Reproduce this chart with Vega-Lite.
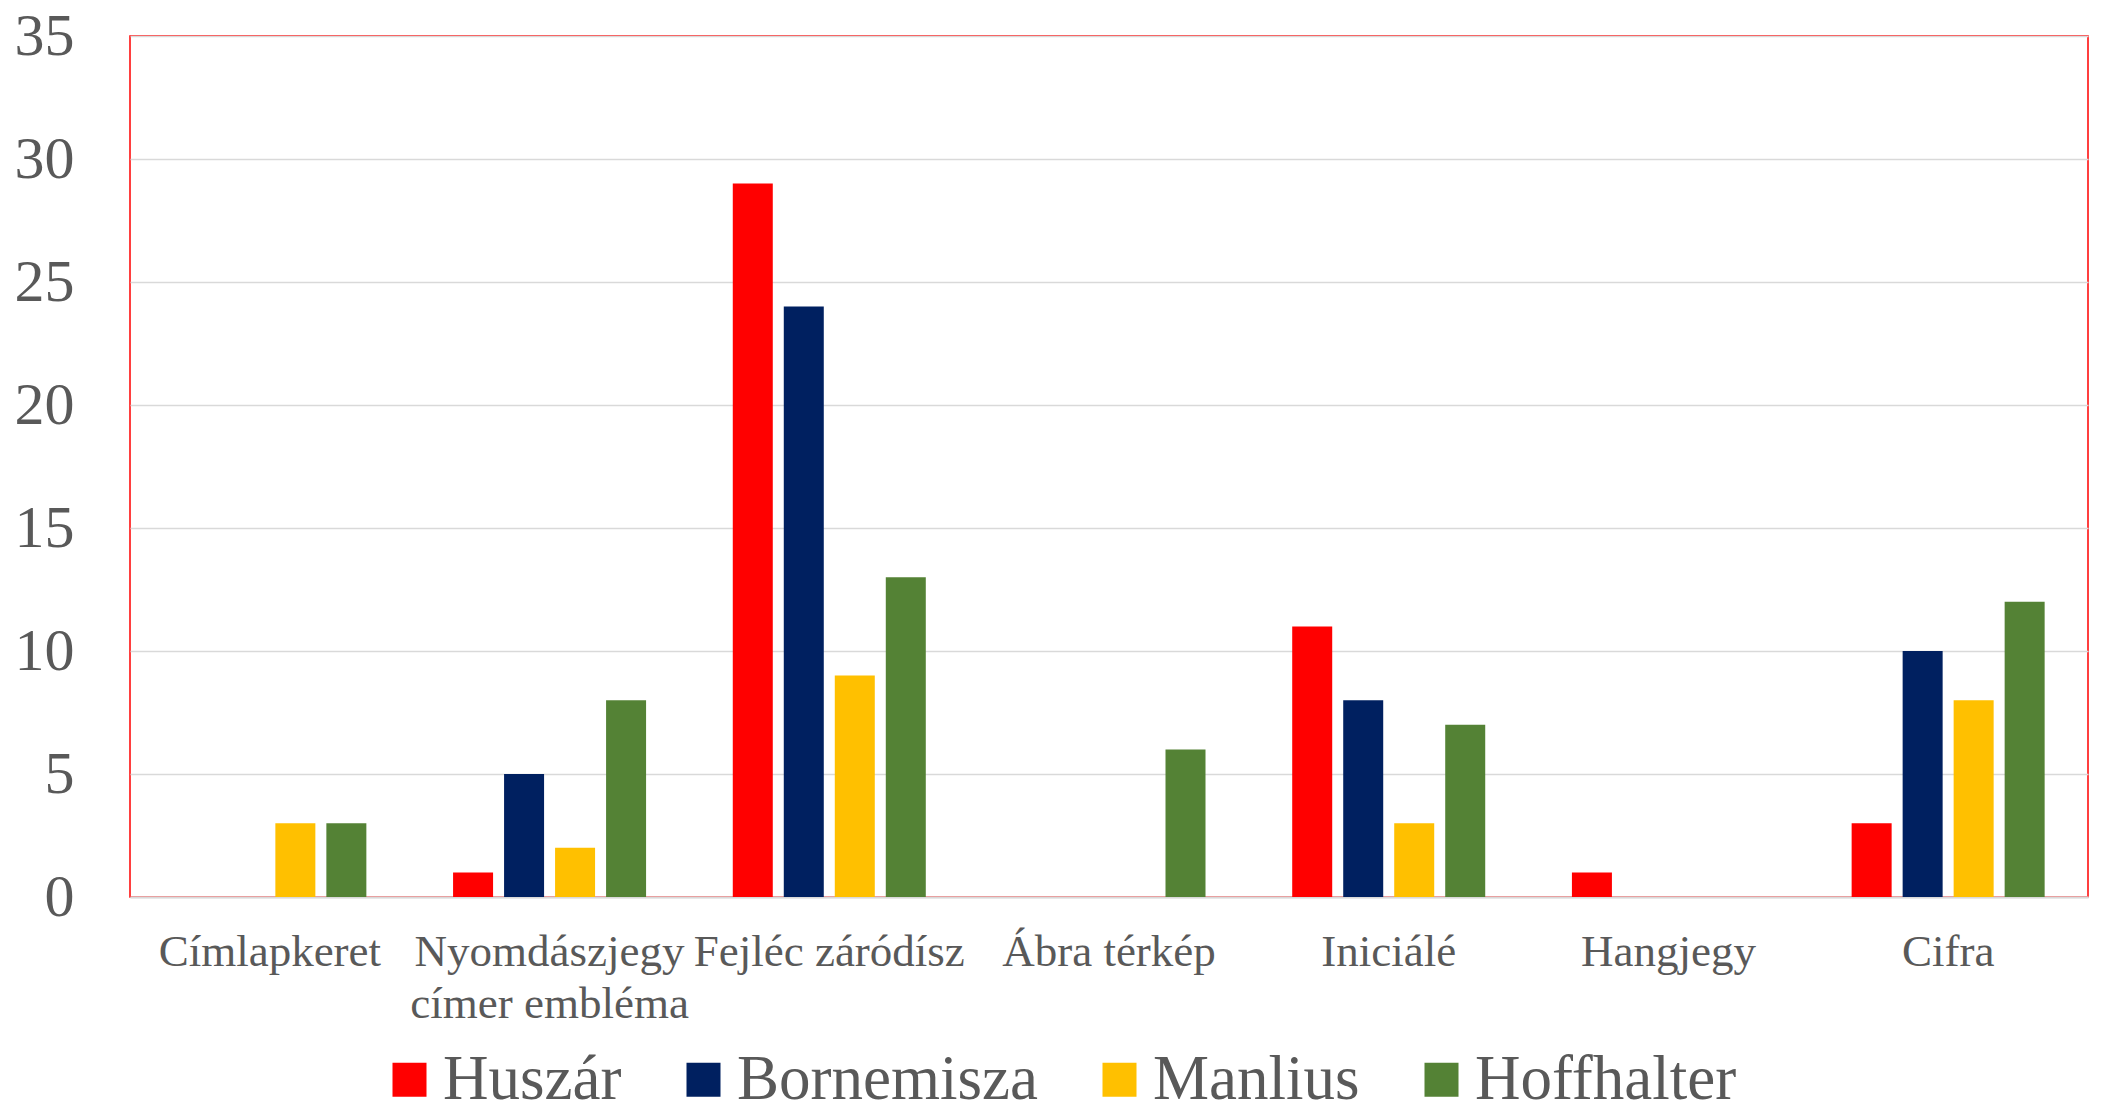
{
  "$schema": "https://vega.github.io/schema/vega-lite/v6.json",
  "autosize": {"type": "none"},
  "width": 1958,
  "height": 861,
  "padding": {"left": 130, "top": 36, "right": 21, "bottom": 218},
  "background": "white",
  "config": {
    "font": "Liberation Serif",
    "view": {"stroke": "#FF0000", "strokeWidth": 1.5}
  },
  "data": {
    "values": [
      {"kategoria": "Címlapkeret", "nyomda": "Huszár", "db": 0},
      {"kategoria": "Címlapkeret", "nyomda": "Bornemisza", "db": 0},
      {"kategoria": "Címlapkeret", "nyomda": "Manlius", "db": 3},
      {"kategoria": "Címlapkeret", "nyomda": "Hoffhalter", "db": 3},
      {"kategoria": "Nyomdászjegy címer embléma", "nyomda": "Huszár", "db": 1},
      {"kategoria": "Nyomdászjegy címer embléma", "nyomda": "Bornemisza", "db": 5},
      {"kategoria": "Nyomdászjegy címer embléma", "nyomda": "Manlius", "db": 2},
      {"kategoria": "Nyomdászjegy címer embléma", "nyomda": "Hoffhalter", "db": 8},
      {"kategoria": "Fejléc záródísz", "nyomda": "Huszár", "db": 29},
      {"kategoria": "Fejléc záródísz", "nyomda": "Bornemisza", "db": 24},
      {"kategoria": "Fejléc záródísz", "nyomda": "Manlius", "db": 9},
      {"kategoria": "Fejléc záródísz", "nyomda": "Hoffhalter", "db": 13},
      {"kategoria": "Ábra térkép", "nyomda": "Huszár", "db": 0},
      {"kategoria": "Ábra térkép", "nyomda": "Bornemisza", "db": 0},
      {"kategoria": "Ábra térkép", "nyomda": "Manlius", "db": 0},
      {"kategoria": "Ábra térkép", "nyomda": "Hoffhalter", "db": 6},
      {"kategoria": "Iniciálé", "nyomda": "Huszár", "db": 11},
      {"kategoria": "Iniciálé", "nyomda": "Bornemisza", "db": 8},
      {"kategoria": "Iniciálé", "nyomda": "Manlius", "db": 3},
      {"kategoria": "Iniciálé", "nyomda": "Hoffhalter", "db": 7},
      {"kategoria": "Hangjegy", "nyomda": "Huszár", "db": 1},
      {"kategoria": "Hangjegy", "nyomda": "Bornemisza", "db": 0},
      {"kategoria": "Hangjegy", "nyomda": "Manlius", "db": 0},
      {"kategoria": "Hangjegy", "nyomda": "Hoffhalter", "db": 0},
      {"kategoria": "Cifra", "nyomda": "Huszár", "db": 3},
      {"kategoria": "Cifra", "nyomda": "Bornemisza", "db": 10},
      {"kategoria": "Cifra", "nyomda": "Manlius", "db": 8},
      {"kategoria": "Cifra", "nyomda": "Hoffhalter", "db": 12}
    ]
  },
  "mark": {"type": "bar"},
  "encoding": {
    "x": {
      "field": "kategoria",
      "type": "nominal",
      "sort": ["Címlapkeret", "Nyomdászjegy címer embléma", "Fejléc záródísz", "Ábra térkép", "Iniciálé", "Hangjegy", "Cifra"],
      "scale": {"paddingInner": 0, "paddingOuter": 0},
      "axis": {
        "title": null,
        "labelAngle": 0,
        "labelFont": "Liberation Serif",
        "labelFontSize": 45,
        "labelColor": "#595959",
        "labelPadding": 32,
        "labelLineHeight": 52,
        "labelLimit": 0,
        "labelExpr": "datum.label == 'Nyomdászjegy címer embléma' ? ['Nyomdászjegy', 'címer embléma'] : datum.label",
        "ticks": false,
        "domain": true,
        "domainColor": "#D9D9D9",
        "domainWidth": 2,
        "grid": false
      }
    },
    "xOffset": {
      "field": "nyomda",
      "type": "nominal",
      "sort": ["Huszár", "Bornemisza", "Manlius", "Hoffhalter"],
      "scale": {"paddingInner": 0.2157, "paddingOuter": 0.85}
    },
    "y": {
      "field": "db",
      "type": "quantitative",
      "scale": {"domain": [0, 35], "nice": false},
      "axis": {
        "title": null,
        "values": [0, 5, 10, 15, 20, 25, 30, 35],
        "labelFont": "Liberation Serif",
        "labelFontSize": 60,
        "labelColor": "#595959",
        "labelPadding": 56,
        "ticks": false,
        "domain": false,
        "grid": true,
        "gridColor": "#D9D9D9",
        "gridWidth": 1.5
      }
    },
    "color": {
      "field": "nyomda",
      "type": "nominal",
      "sort": ["Huszár", "Bornemisza", "Manlius", "Hoffhalter"],
      "scale": {
        "domain": ["Huszár", "Bornemisza", "Manlius", "Hoffhalter"],
        "range": ["#FF0000", "#002060", "#FFC000", "#548235"]
      },
      "legend": {
        "title": null,
        "orient": "none",
        "direction": "horizontal",
        "legendX": 248,
        "legendY": 1012,
        "padding": 0,
        "symbolType": "square",
        "symbolSize": 1156,
        "symbolStrokeWidth": 0,
        "symbolOpacity": 1,
        "labelFont": "Liberation Serif",
        "labelFontSize": 63,
        "labelColor": "#595959",
        "labelOffset": 2,
        "labelLimit": 0,
        "columnPadding": 50
      }
    }
  }
}
